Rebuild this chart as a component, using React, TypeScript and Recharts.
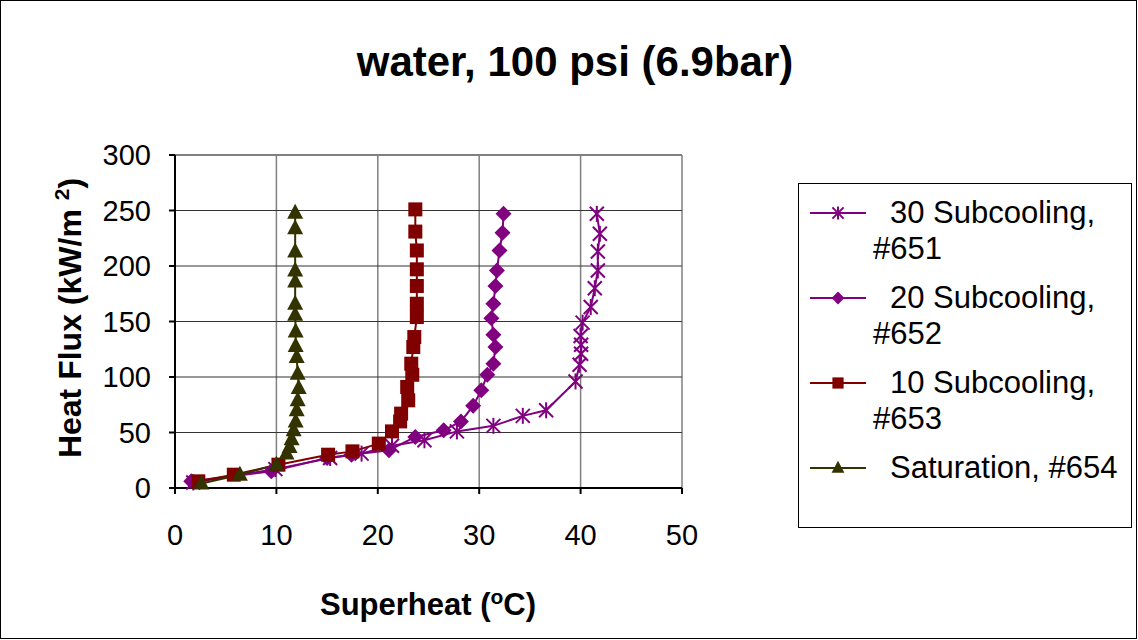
import React from 'react';
import {
  ComposedChart,
  Line,
  XAxis,
  YAxis,
  CartesianGrid,
  ReferenceLine,
} from 'recharts';

// superheat (°C) / heat flux (kW/m2)
const sub30X = [1.8, 9.9, 15.3, 18.4, 21.4, 24.6, 27.8, 31.4, 34.3, 36.6, 39.5, 39.9, 40.05, 40.05, 40.0, 40.2, 41.0, 41.4, 41.7, 41.7, 41.9, 41.6];
const sub30Y = [5, 17, 27, 31, 38, 43, 51, 56, 65, 70, 96, 111, 121, 129, 137, 149, 163, 180, 196, 213, 229, 247];

const sub20X = [1.6, 9.5, 15.0, 17.4, 21.1, 23.7, 26.5, 28.2, 29.4, 30.2, 30.8, 31.4, 31.6, 31.4, 31.2, 31.4, 31.6, 31.75, 32.0, 32.3, 32.4];
const sub20Y = [6, 15, 27, 30, 34, 46, 52, 60, 74, 88, 102, 112, 127, 138, 153, 166, 182, 196, 214, 230, 247];

const sub10X = [2.3, 5.8, 10.2, 15.1, 17.5, 20.1, 21.4, 22.2, 22.3, 23.0, 22.9, 23.4, 23.3, 23.5, 23.6, 23.85, 23.85, 23.85, 23.85, 23.85, 23.7, 23.7];
const sub10Y = [6, 12, 21, 30, 33, 40, 51, 60, 67, 79, 91, 102, 112, 127, 136, 154, 166, 182, 197, 214, 231, 251];

const satX = [2.6, 6.4, 10.0, 11.0, 11.3, 11.5, 11.7, 11.9, 12.0, 12.1, 12.2, 12.1, 12.0, 11.9, 11.9, 11.85, 11.85, 11.85, 11.85, 11.85, 11.85, 11.85];
const satY = [4, 12, 21, 31, 37, 44, 52, 60, 70, 79, 90, 103, 118, 128, 141, 156, 166, 186, 196, 213, 234, 248];

const xTicks = [0, 10, 20, 30, 40, 50];
const yTicks = [0, 50, 100, 150, 200, 250, 300];

const FONT = '"Liberation Sans", Arial, sans-serif';

const toPoints = (xs: number[], ys: number[]) => xs.map((x, i) => ({ x, y: ys[i] }));

type MarkerProps = { cx?: number; cy?: number; color: string; s?: number };

const Star = ({ cx = 0, cy = 0, color, s = 1 }: MarkerProps) => (
  <g stroke={color} strokeWidth={2}>
    <line x1={cx - 7 * s} y1={cy - 7 * s} x2={cx + 7 * s} y2={cy + 7 * s} />
    <line x1={cx - 7 * s} y1={cy + 7 * s} x2={cx + 7 * s} y2={cy - 7 * s} />
    <line x1={cx} y1={cy - 8 * s} x2={cx} y2={cy + 8 * s} />
  </g>
);

const Diamond = ({ cx = 0, cy = 0, color, s = 1 }: MarkerProps) => (
  <polygon
    points={`${cx},${cy - 8 * s} ${cx + 8 * s},${cy} ${cx},${cy + 8 * s} ${cx - 8 * s},${cy}`}
    fill={color}
  />
);

const Square = ({ cx = 0, cy = 0, color, s = 1 }: MarkerProps) => (
  <rect x={cx - 7 * s} y={cy - 7 * s} width={14 * s} height={14 * s} fill={color} />
);

const Triangle = ({ cx = 0, cy = 0, color, s = 1 }: MarkerProps) => (
  <polygon
    points={`${cx},${cy - 9 * s} ${cx + 8 * s},${cy + 6 * s} ${cx - 8 * s},${cy + 6 * s}`}
    fill={color}
  />
);

const SERIES = [
  { name: '30 Subcooling,', sub: '#651', color: '#800080', data: toPoints(sub30X, sub30Y), Marker: Star },
  { name: '20 Subcooling,', sub: '#652', color: '#800080', data: toPoints(sub20X, sub20Y), Marker: Diamond },
  { name: '10 Subcooling,', sub: '#653', color: '#800000', data: toPoints(sub10X, sub10Y), Marker: Square },
  { name: 'Saturation, #654', sub: '', color: '#333300', data: toPoints(satX, satY), Marker: Triangle },
];

const LegendBox = () => (
  <div
    style={{
      position: 'absolute',
      left: 798,
      top: 183,
      width: 334,
      height: 345,
      border: '1px solid #000',
      boxSizing: 'border-box',
      fontFamily: FONT,
      fontSize: 31,
      color: '#000',
      paddingTop: 11,
    }}
  >
    {SERIES.map(({ name, sub, color, Marker }) => (
      <div key={name} style={{ height: 85, position: 'relative' }}>
        <svg width={60} height={20} style={{ position: 'absolute', left: 11, top: 8 }}>
          <line x1={0} y1={10} x2={56} y2={10} stroke={color} strokeWidth={2} />
          <Marker cx={28} cy={10} color={color} s={0.8} />
        </svg>
        <div style={{ position: 'absolute', left: 91, top: 0, whiteSpace: 'nowrap', lineHeight: '36px' }}>{name}</div>
        {sub && (
          <div style={{ position: 'absolute', left: 74, top: 36, lineHeight: '36px' }}>{sub}</div>
        )}
      </div>
    ))}
  </div>
);

export default function App() {
  return (
    <div style={{ position: 'absolute', left: 0, top: 0, width: 1138, height: 640, background: '#fff' }}>
      <div
        style={{
          position: 'absolute',
          left: 0,
          top: 0,
          width: 1137,
          height: 639,
          border: '1px solid #000',
          boxSizing: 'border-box',
        }}
      />
      <div
        style={{
          position: 'absolute',
          left: 0,
          width: 1138,
          top: 37,
          textAlign: 'center',
          fontFamily: FONT,
          fontWeight: 'bold',
          fontSize: 42,
          lineHeight: '50px',
          paddingLeft: 12,
          boxSizing: 'border-box',
        }}
      >
        water, 100 psi (6.9bar)
      </div>
      <ComposedChart
        width={1138}
        height={640}
        margin={{ top: 155, right: 456, bottom: 112, left: 115 }}
        style={{ position: 'absolute', left: 0, top: 0 }}
      >
        <CartesianGrid horizontal={false} stroke="#808080" strokeWidth={1.5} />
        <CartesianGrid vertical={false} stroke="#333" strokeWidth={1.2} />
        <ReferenceLine y={300} stroke="#808080" strokeWidth={2} />
        <XAxis
          dataKey="x"
          type="number"
          domain={[0, 50]}
          ticks={xTicks}
          allowDuplicatedCategory={false}
          height={40}
          stroke="#000"
          strokeWidth={2}
          tickSize={6}
          tickMargin={30}
          tick={{ fontFamily: FONT, fontSize: 29, fill: '#000' }}
        />
        <YAxis
          dataKey="y"
          type="number"
          domain={[0, 300]}
          ticks={yTicks}
          width={60}
          stroke="#000"
          strokeWidth={2}
          tickSize={6}
          tickMargin={18}
          tick={{ fontFamily: FONT, fontSize: 29, fill: '#000' }}
        />
        {SERIES.map(({ name, color, data, Marker }) => (
          <Line
            key={name}
            name={name}
            data={data}
            dataKey="y"
            type="linear"
            stroke={color}
            strokeWidth={2}
            isAnimationActive={false}
            dot={(p: any) => <Marker key={`${name}-${p.index}`} cx={p.cx} cy={p.cy} color={color} />}
            activeDot={false}
          />
        ))}
      </ComposedChart>
      <LegendBox />
      <div
        style={{
          position: 'absolute',
          left: 62 - 200,
          top: 318 - 20,
          width: 400,
          height: 40,
          lineHeight: '40px',
          textAlign: 'center',
          transform: 'rotate(-90deg)',
          fontFamily: FONT,
          fontWeight: 'bold',
          fontSize: 32,
          whiteSpace: 'nowrap',
        }}
      >
        Heat Flux (kW/m <sup style={{ fontSize: 21, verticalAlign: 'super' }}>2</sup>)
      </div>
      <div
        style={{
          position: 'absolute',
          left: 228,
          top: 577,
          width: 400,
          textAlign: 'center',
          fontFamily: FONT,
          fontWeight: 'bold',
          fontSize: 31,
          lineHeight: '40px',
          whiteSpace: 'nowrap',
        }}
      >
        Superheat (<sup style={{ fontSize: 21 }}>o</sup>C)
      </div>
    </div>
  );
}
